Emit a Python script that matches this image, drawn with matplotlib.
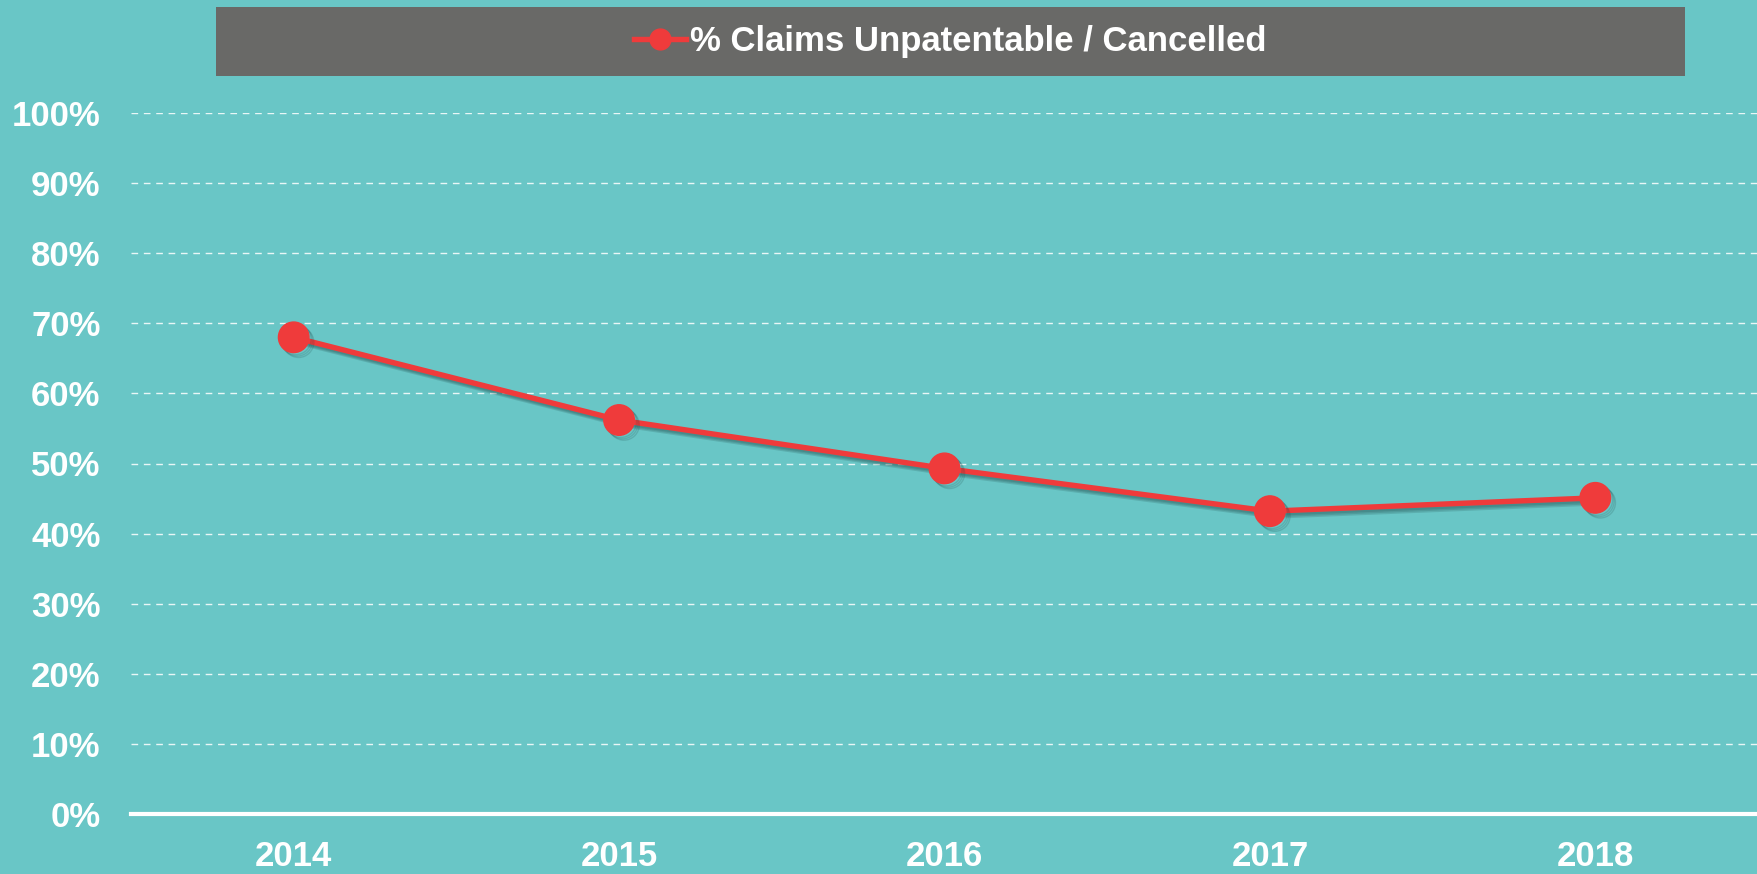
import matplotlib
matplotlib.use("Agg")
import matplotlib.pyplot as plt
import matplotlib.patheffects as pe
from matplotlib.patches import Rectangle
from matplotlib.lines import Line2D
from matplotlib.ticker import FuncFormatter

years = ["2014", "2015", "2016", "2017", "2018"]
pct_cancelled = [0.68, 0.562, 0.493, 0.432, 0.451]
series_name = "% Claims Unpatentable / Cancelled"

TEAL = "#69c6c6"
GREY = "#696967"
RED = "#ef3b3b"

plt.rcParams["font.family"] = ["Liberation Sans", "DejaVu Sans"]
plt.rcParams["font.weight"] = "bold"

fig = plt.figure(figsize=(17.58, 8.74), dpi=100, facecolor=TEAL)
ax = fig.add_axes([131 / 1758, 60 / 874, 1627 / 1758, 701 / 874])
ax.set_facecolor(TEAL)

x = list(range(len(years)))
# soft drop shadow: a few stacked offset copies
shadow = [pe.SimpleLineShadow(offset=(o, -o), shadow_color="#1c4545", alpha=0.18)
          for o in (1.5, 2.5, 3.5)] + [pe.Normal()]
ax.plot(x, pct_cancelled, color=RED, lw=3.9, marker="o", ms=22,
        path_effects=shadow, zorder=5, clip_on=False)

ax.set_xlim(-0.5, len(years) - 0.5)
ax.set_ylim(0, 1)
ax.set_xticks(x)
ax.set_xticklabels(years)
ax.set_yticks([i / 10 for i in range(11)])
ax.yaxis.set_major_formatter(FuncFormatter(lambda v, p: f"{v:.0%}"))

ax.grid(axis="y", color="white", alpha=0.85, lw=1.0, dashes=(4.8, 4.1))
ax.set_axisbelow(True)
for s in ["left", "right", "top"]:
    ax.spines[s].set_visible(False)
ax.spines["bottom"].set_color("white")
ax.spines["bottom"].set_linewidth(3)
ax.spines["bottom"].set_zorder(6)

ax.tick_params(axis="both", length=0, colors="white", labelsize=25)
ax.tick_params(axis="y", pad=22)
ax.tick_params(axis="x", pad=19)
for lab in ax.get_xticklabels() + ax.get_yticklabels():
    lab.set_fontweight("bold")

# legend bar at the top
fig.patches.append(Rectangle((216 / 1758, 1 - 76 / 874), 1469 / 1758, 69 / 874,
                             transform=fig.transFigure, facecolor=GREY,
                             edgecolor="none", zorder=0))
handle = Line2D([], [], color=RED, lw=3.9, marker="o", ms=15)
leg = fig.legend([handle], [series_name], loc="center",
                 bbox_to_anchor=(950 / 1758, 1 - 41.5 / 874), frameon=False,
                 handlelength=1.5, handletextpad=0.1,
                 prop={"size": 25, "weight": "bold"})
for t in leg.get_texts():
    t.set_color("white")

fig.savefig("out.png", dpi=100, facecolor=TEAL)
